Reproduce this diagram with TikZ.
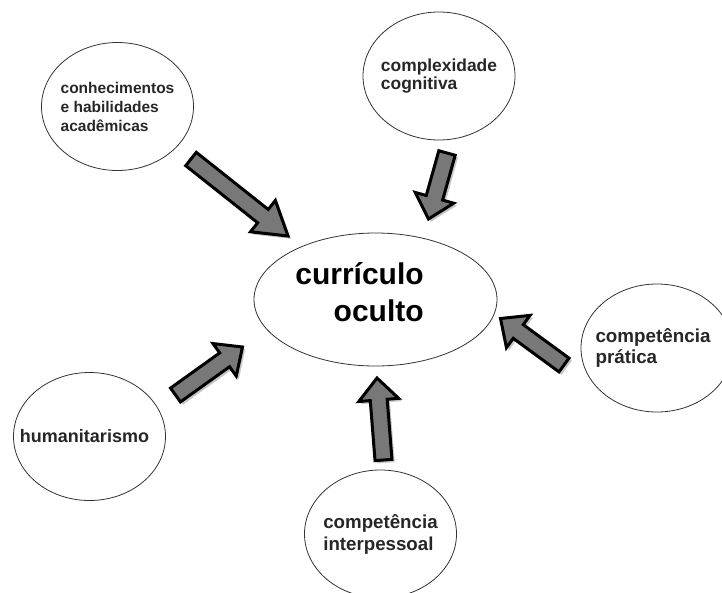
\documentclass[tikz,border=0pt]{standalone}
\usepackage{fontspec}
\setmainfont{Liberation Sans}
\usetikzlibrary{shapes.geometric,calc}

\begin{document}
\begin{tikzpicture}[
    x=1pt,
    y=-1pt,
    oval/.style={draw=black!80, line width=0.8pt, ellipse, minimum width=152pt, minimum height=128pt, inner xsep=-18pt, inner ysep=0pt, align=left, text=black!85},
    blk/.style={draw=black, line width=3pt, fill=black!53, line join=miter,
        preaction={draw=black!22, fill=black!22, transform canvas={shift={(2.5,2.5)}}},
        to path={
            ($(\tikztotarget)!#1!(\tikztostart)$) coordinate (bkC)
            ($(\tikztostart)!8.5pt!-90:(\tikztotarget)$) -- ($(bkC)!8.5pt!-90:(\tikztotarget)$)
            -- ($(bkC)!20pt!-90:(\tikztotarget)$) -- (\tikztotarget)
            -- ($(bkC)!20pt!90:(\tikztotarget)$) -- ($(bkC)!8.5pt!90:(\tikztotarget)$)
            -- ($(\tikztostart)!8.5pt!90:(\tikztotarget)$) -- cycle}},
    blk/.default=22pt,
]
    \useasboundingbox (0,0) rectangle (722,592);

    \node[oval, minimum width=243pt, minimum height=133pt, align=right, text=black, font=\bfseries\fontsize{30}{37}\selectfont] (cur) at (375.5,299.5) {currículo\kern32pt\\oculto\kern32pt\rule[-16pt]{0pt}{0pt}};
    \node[oval, font=\bfseries\fontsize{15.5}{19}\selectfont] (conh) at (117.5,106.5) {conhecimentos\\e habilidades\\acadêmicas};
    \node[oval, font=\bfseries\fontsize{17.4}{18.5}\selectfont] (comp) at (439,76) {complexidade\\cognitiva};
    \node[oval, font=\bfseries\fontsize{18.8}{21}\selectfont] (prat) at (657,348) {competência\kern8pt\\prática};
    \node[oval, font=\bfseries\fontsize{18.7}{22}\selectfont] (inter) at (380.5,534) {competência\\interpessoal};
    \node[oval, font=\bfseries\fontsize{18}{21}\selectfont] (hum) at (89.5,436.5) {humanitarismo\kern10pt};

    \coordinate (t1) at (191,159);
    \coordinate (h1) at (288,236);
    \coordinate (t2) at (447,153);
    \coordinate (h2) at (428.5,219);
    \coordinate (t3) at (564,365);
    \coordinate (h3) at (500.5,318.5);
    \coordinate (t4) at (383.5,460);
    \coordinate (h4) at (377,378);
    \coordinate (t5) at (175.5,395);
    \coordinate (h5) at (242.5,347);

    \path[blk=32pt] (t1) to (h1);
    \path[blk] (t2) to (h2);
    \path[blk] (t3) to (h3);
    \path[blk] (t4) to (h4);
    \path[blk] (t5) to (h5);
\end{tikzpicture}
\end{document}
